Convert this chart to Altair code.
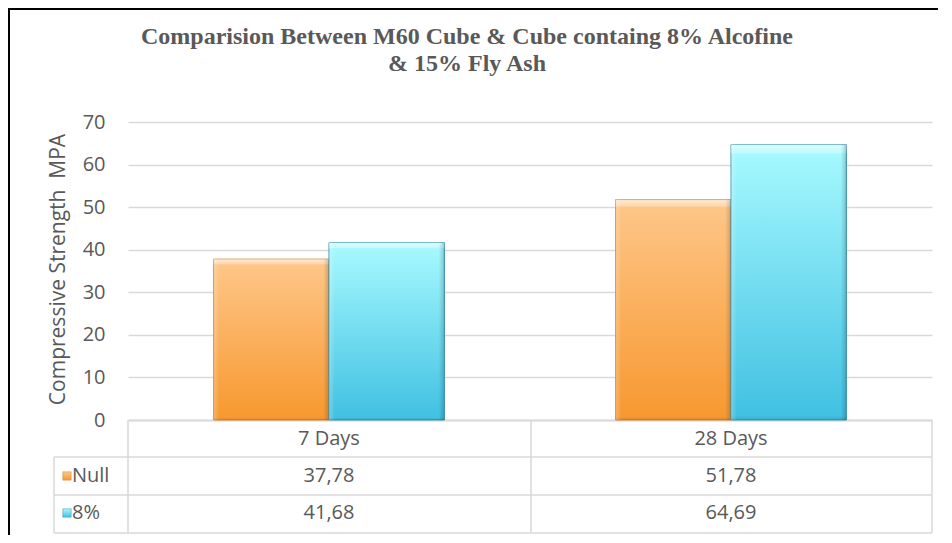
import altair as alt
import pandas as pd

# ---- data ----
days = ["7 Days", "28 Days"]
series = ["Null", "8%"]
null_values = [37.78, 51.78]
pct8_values = [41.68, 64.69]

rows = []
for s, vals in zip(series, [null_values, pct8_values]):
    for d, v in zip(days, vals):
        rows.append({"day": d, "series": s, "value": v})
df = pd.DataFrame(rows)
series_df = pd.DataFrame({"series": series})
one = pd.DataFrame({"k": [0]})

# ---- styling ----
GRAY = "#595959"
LINE = "#d9d9d9"
FONT = "Open Sans"
W, H = 804, 298
ROW_Y = {"Null": 354, "8%": 391}  # centres of the data-table rows, px below plot top


def grad(stops, horizontal=False):
    g = {"gradient": "linear", "x1": 0, "y1": 0,
         "x2": 1 if horizontal else 0, "y2": 0 if horizontal else 1,
         "stops": [{"offset": o, "color": c} for o, c in stops]}
    return g


FILL = {"Null": grad([(0, "#fec78a"), (1, "#f7982f")]),
        "8%": grad([(0, "#a8faff"), (1, "#40c0e2")])}
STROKE = {"Null": "#d0853a", "8%": "#3a95ad"}
BEVEL_V = grad([(0, "rgba(255,255,255,0.6)"), (0.03, "rgba(255,255,255,0.3)"),
                (0.035, "rgba(255,255,255,0)"), (0.985, "rgba(0,0,0,0)"),
                (1, "rgba(0,0,0,0.12)")])
BEVEL_H = grad([(0, "rgba(255,255,255,0.25)"), (0.05, "rgba(255,255,255,0)"),
                (0.95, "rgba(0,0,0,0)"), (1, "rgba(0,0,0,0.18)")], horizontal=True)

x_scale = alt.Scale(domain=days, paddingInner=0.426, paddingOuter=0.213)
x_axis = alt.Axis(title=None, domain=True, domainColor=LINE, domainWidth=2, ticks=False,
                  labelFont=FONT, labelFontSize=20, labelColor=GRAY, labelPadding=8,
                  labelAngle=0)
y_enc = alt.Y("value:Q",
              scale=alt.Scale(domain=[0, 70], nice=False),
              axis=alt.Axis(values=list(range(0, 71, 10)), grid=True, gridColor=LINE,
                            gridWidth=1.5, domain=False, ticks=False, labelPadding=23,
                            labelFont=FONT, labelFontSize=20, labelColor=GRAY,
                            title="Compressive Strength \u00a0MPA", titleFont=FONT,
                            titleFontSize=21, titleFontWeight="normal", titleColor=GRAY,
                            titleX=-70, titleY=147, titleBaseline="middle"))


def hrule(y, x1, x2, color=LINE, w=1.5):
    return alt.Chart(one).mark_rule(color=color, strokeWidth=w).encode(
        x=alt.value(x1), x2=alt.value(x2), y=alt.value(y))


def vrule(x, y1, y2, color=LINE, w=1.5):
    return alt.Chart(one).mark_rule(color=color, strokeWidth=w).encode(
        x=alt.value(x), y=alt.value(y1), y2=alt.value(y2))


def bars(s, fill, stroke=None):
    kw = {"fill": fill}
    if stroke:
        kw.update(stroke=stroke, strokeWidth=1)
    return alt.Chart(df).transform_filter(alt.datum.series == s).mark_bar(**kw).encode(
        x=alt.X("day:N", scale=x_scale, axis=x_axis),
        xOffset=alt.XOffset("series:N", scale=alt.Scale(domain=series)),
        y=y_enc)


def table_values(s):
    return alt.Chart(df).transform_filter(alt.datum.series == s).transform_calculate(
        label="replace(format(datum.value, '.2f'), '.', ',')").mark_text(
        font=FONT, fontSize=20, color=GRAY, baseline="middle").encode(
        x=alt.X("day:N", scale=x_scale, axis=x_axis), y=alt.value(ROW_Y[s]), text="label:N")


def row_key(s):
    base = alt.Chart(series_df).transform_filter(alt.datum.series == s)
    sq = base.mark_square(size=70, fill=FILL[s], stroke=STROKE[s], strokeWidth=0.5,
                          opacity=1).encode(x=alt.value(-61), y=alt.value(ROW_Y[s]))
    tx = base.mark_text(align="left", baseline="middle", font=FONT, fontSize=20,
                        color=GRAY).encode(x=alt.value(-56), y=alt.value(ROW_Y[s]),
                                           text="series:N")
    return [sq, tx]


layers = [
    # data-table grid
    hrule(335, -74, W), hrule(373, -74, W), hrule(411, -74, W),
    vrule(0, H, 411), vrule(403, H, 411), vrule(W, H, 411), vrule(-74, 335, 411),
    # chart frame (top and left edges visible in the reference)
    hrule(-113, -120, W + 6, "black", 2), vrule(-119, -114, 413, "black", 2),
]
for s in series:
    layers += [bars(s, FILL[s], STROKE[s]), bars(s, BEVEL_V), bars(s, BEVEL_H)]
layers += [table_values(s) for s in series]
for s in series:
    layers += row_key(s)

chart = alt.layer(*layers).properties(
    width=W, height=H,
    autosize=alt.AutoSizeParams(type="none"),
    padding={"left": 120, "top": 114, "right": 6, "bottom": 115},
    background="white",
    title=alt.TitleParams(
        text=["Comparision Between M60 Cube & Cube containg 8% Alcofine", "& 15% Fly Ash"],
        font="Liberation Serif", fontSize=24, fontWeight="bold", color=GRAY,
        anchor="middle", frame="group", dx=-63, offset=0, dy=69, baseline="top",
        lineHeight=27),
).configure_view(stroke=None)

chart.save("out.html", embed_options={"renderer": "svg", "actions": False})
